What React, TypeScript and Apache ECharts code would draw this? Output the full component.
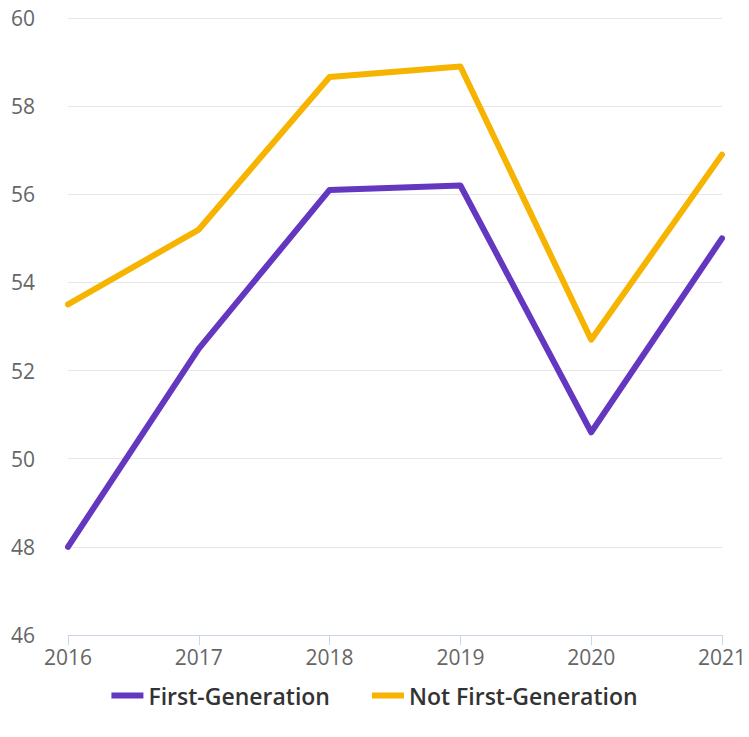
import React, { useEffect, useRef } from "react";
import * as echarts from "echarts";

const years = ["2016", "2017", "2018", "2019", "2020", "2021"];
const firstGen = [48.0, 52.5, 56.1, 56.2, 50.6, 55.0];
const notFirstGen = [53.5, 55.2, 58.66, 58.9, 52.7, 56.9];
const seriesNames = ["First-Generation", "Not First-Generation"];

export default function App() {
  const ref = useRef<HTMLDivElement>(null);
  useEffect(() => {
    document.body.style.margin = "0";
    const chart = echarts.init(ref.current!, undefined, { renderer: "svg" });
    const font = "'Open Sans', 'Noto Sans', sans-serif";
    chart.setOption({
      animation: false,
      backgroundColor: "#ffffff",
      grid: { left: 68, right: 21, top: 18, bottom: 102, containLabel: false },
      legend: {
        bottom: 25,
        left: "center",
        icon: "rect",
        itemWidth: 32,
        itemHeight: 6,
        itemGap: 42,
        textStyle: { fontFamily: font, fontSize: 23, fontWeight: 600, color: "#333333" },
        data: seriesNames,
      },
      xAxis: {
        type: "category",
        data: years,
        boundaryGap: false,
        axisLine: { lineStyle: { color: "#ccd6eb", width: 1 } },
        axisTick: { show: true, length: 10, alignWithLabel: true, lineStyle: { color: "#ccd6eb" } },
        axisLabel: { color: "#666666", fontSize: 21, fontFamily: font, margin: 11 },
        splitLine: { show: false },
      },
      yAxis: {
        type: "value",
        min: 46,
        max: 60,
        interval: 2,
        axisLine: { show: false },
        axisTick: { show: false },
        axisLabel: { color: "#666666", fontSize: 21, fontFamily: font, margin: 33 },
        splitLine: { lineStyle: { color: "#e6e6e6", width: 1 } },
      },
      series: [
        {
          name: seriesNames[0],
          type: "line",
          data: firstGen,
          symbol: "none",
          color: "#6437c0",
          lineStyle: { width: 6, color: "#6437c0", cap: "round", join: "round" },
        },
        {
          name: seriesNames[1],
          type: "line",
          data: notFirstGen,
          symbol: "none",
          color: "#f6b400",
          lineStyle: { width: 6, color: "#f6b400", cap: "round", join: "round" },
        },
      ],
    });
    return () => chart.dispose();
  }, []);
  return <div ref={ref} style={{ width: 749, height: 737 }} />;
}
